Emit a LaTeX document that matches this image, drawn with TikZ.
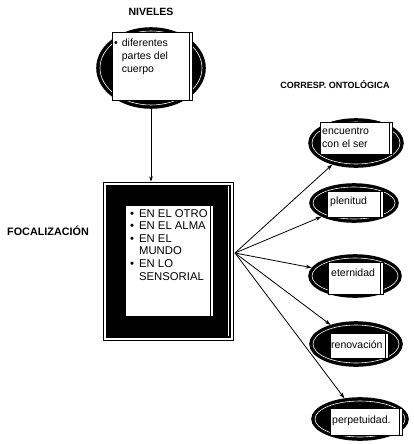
\documentclass[tikz,border=0pt]{standalone}
\usepackage{fontspec}
\setmainfont{Liberation Sans}
\usetikzlibrary{shapes.geometric,arrows.meta}
\begin{document}
\begin{tikzpicture}[x=1pt,y=-1pt,
  hdr/.style={font=\bfseries\fontsize{10.5}{12}\selectfont, inner sep=0},
  oval/.style={ellipse, draw=black, fill=black, line width=1.6pt, inner sep=0},
  tbox/.style={draw=black, fill=white, line width=0.8pt, inner sep=0},
  body/.style={font=\fontsize{10.5}{13}\selectfont, inner sep=0, align=left},
  arr/.style={line width=0.8pt, -{Stealth[length=6pt,width=4pt]}}
]
\useasboundingbox (0,0) rectangle (413,444);

% headers
\node[hdr] (hniv) at (151,12) {NIVELES};
\node[hdr, font=\bfseries\fontsize{9}{11}\selectfont] (hcor) at (335,85) {CORRESP. ONTOLÓGICA};
\node[hdr, font=\bfseries\fontsize{10.8}{12}\selectfont] (hfoc) at (48,231) {FOCALIZACIÓN};

% top ellipse
\node[oval, minimum width=108pt, minimum height=80pt] (niv) at (151,68) {};
\draw[white, line width=0.6pt] (151,68) ellipse [x radius=51, y radius=37];
\node[tbox, minimum width=80pt, minimum height=68pt] (nivbox) at (152,66) {};
\draw[line width=0.6pt] ([xshift=-3pt]nivbox.north east) -- ([xshift=-3pt]nivbox.south east);
\node[body, anchor=north west] (nivtxt) at (114,37) {%
  \begin{tabular}{@{}l@{\hspace{4pt}}l@{}}\textbullet & diferentes\\ & partes del\\ & cuerpo\end{tabular}};

% focalizacion box
\node[draw=black, line width=1pt, minimum width=130pt, minimum height=158pt, inner sep=0] (foc) at (168,261) {};
\fill[black] (105.5,184.5) rectangle (230.5,337.5);
\draw[white, line width=0.5pt] (228,186) -- (228,336);
\node[tbox, minimum width=88pt, minimum height=111pt] (focbox) at (169,260.5) {};
\draw[line width=0.6pt] ([xshift=-3pt]focbox.north east) -- ([xshift=-3pt]focbox.south east);
\node[body, anchor=north west, font=\fontsize{11.3}{12.6}\selectfont] (foctxt) at (130,208) {%
  \begin{tabular}{@{}l@{\hspace{5pt}}l@{}}\textbullet & EN EL OTRO\\ \textbullet & EN EL ALMA\\ \textbullet & EN EL\\ & MUNDO\\ \textbullet & EN LO\\ & SENSORIAL\end{tabular}};

% top arrow
\draw[line width=0.7pt, -{Stealth[length=5pt,width=3.5pt]}] (niv.south) -- (niv.south |- foc.north);

% right ellipses
\foreach \nm/\cx/\cy/\rx/\ry in {e1/356/143/47/24, e2/354/203/44/19, e3/355/276/46/21, e4/356/344/46/22, e5/360/419/48/21}{
  \node[oval, minimum width={2*\rx*1pt}, minimum height={2*\ry*1pt}] (\nm) at (\cx,\cy) {};
  \draw[white, line width=0.6pt] (\cx,\cy) ellipse [x radius=\rx-3, y radius=\ry-3];
}

% boxes in ellipses
\node[tbox, minimum width=72pt, minimum height=32pt] (b1) at (356,138) {};
\node[tbox, minimum width=56pt, minimum height=26pt] (b2) at (355,204) {};
\node[tbox, minimum width=55pt, minimum height=32pt] (b3) at (355.5,278) {};
\node[tbox, minimum width=58pt, minimum height=25pt] (b4) at (359,346) {};
\node[tbox, minimum width=72pt, minimum height=27pt] (b5) at (366,421.5) {};
\foreach \b in {b1,b2,b3,b4,b5}{
  \draw[line width=0.6pt] ([xshift=-3pt]\b.north east) -- ([xshift=-3pt]\b.south east);
}
\node[body, anchor=west] (t1) at (322,138) {encuentro\\con el ser};
\node[body, anchor=west] (t2) at (330,202) {plenitud};
\node[body, anchor=west] (t3) at (331,273) {eternidad};
\node[body, anchor=west] (t4) at (331,345) {renovación};
\node[body, anchor=west] (t5) at (332,421) {perpetuidad.};

% fan arrows
\coordinate (src) at (235,253);
\foreach \e in {e1,e2,e3,e4,e5}{
  \draw[arr] (src) -- (\e);
}
\end{tikzpicture}
\end{document}
